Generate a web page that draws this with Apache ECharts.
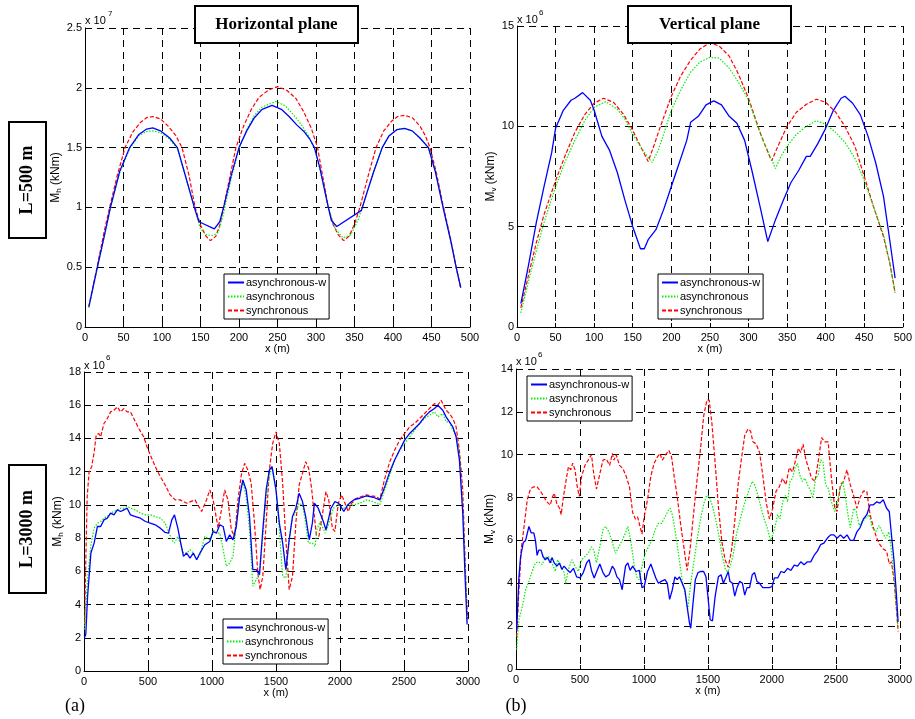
<!DOCTYPE html>
<html><head><meta charset="utf-8">
<script src="https://cdn.jsdelivr.net/npm/echarts@6/dist/echarts.min.js"></script>
<style>html,body{margin:0;padding:0;background:#fff}#c{width:915px;height:719px}</style>
</head><body><div id="c"></div><script>
// ---------- DATA (values in axis units: top-left x10^7, others x10^6 kNm) ----------
const seriesNames = ['asynchronous-w', 'asynchronous', 'synchronous'];

// Horizontal plane, L=500 m  (Mh, x10^7)
const mhL500AsyncW = [[5,0.17],[15,0.47],[25,0.76],[33,1.0],[45,1.3],[58,1.5],[70,1.61],[80,1.655],[88,1.665],[98,1.64],[110,1.58],[120,1.5],[131,1.25],[142,1.0],[148,0.88],[168,0.82],[175,0.88],[180,1.0],[190,1.27],[200,1.5],[210,1.64],[220,1.75],[230,1.82],[243,1.853],[255,1.82],[265,1.76],[275,1.69],[285,1.63],[292,1.57],[298,1.5],[305,1.33],[316,1.0],[320,0.89],[327,0.84],[359,0.975],[365,1.1],[375,1.3],[386,1.5],[395,1.6],[405,1.65],[415,1.66],[425,1.64],[435,1.58],[446,1.5],[455,1.3],[465,1.0],[475,0.72],[482,0.5],[488,0.33]];
const mhL500Async = [[5,0.16],[15,0.46],[25,0.75],[33,0.99],[45,1.29],[58,1.49],[70,1.6],[80,1.635],[88,1.64],[98,1.625],[110,1.57],[120,1.49],[131,1.25],[142,1.0],[150,0.82],[158,0.77],[166,0.765],[173,0.79],[180,0.95],[190,1.25],[200,1.49],[210,1.65],[220,1.77],[230,1.84],[248,1.885],[260,1.85],[270,1.78],[280,1.7],[290,1.6],[298,1.49],[305,1.32],[316,1.0],[325,0.82],[335,0.745],[345,0.77],[355,0.9],[365,1.1],[375,1.3],[386,1.5],[395,1.6],[405,1.65],[415,1.66],[425,1.64],[435,1.58],[446,1.5],[455,1.3],[465,1.0],[475,0.72],[482,0.5],[488,0.33]];
const mhL500Sync = [[5,0.17],[15,0.48],[25,0.8],[32,1.0],[42,1.27],[52,1.5],[62,1.63],[72,1.71],[80,1.75],[88,1.76],[98,1.74],[108,1.68],[118,1.6],[126,1.5],[135,1.27],[143,1.0],[150,0.85],[157,0.76],[163,0.722],[170,0.76],[175,0.85],[180,1.0],[188,1.25],[196,1.5],[206,1.68],[216,1.82],[226,1.92],[238,1.98],[250,2.01],[262,1.98],[274,1.91],[284,1.8],[294,1.66],[302,1.5],[309,1.25],[316,1.0],[322,0.86],[329,0.77],[336,0.722],[343,0.76],[350,0.86],[357,1.0],[368,1.27],[378,1.5],[388,1.64],[398,1.72],[406,1.76],[415,1.77],[425,1.75],[435,1.68],[442,1.6],[448,1.5],[456,1.3],[465,1.02],[475,0.73],[482,0.5],[488,0.32]];

// Vertical plane, L=500 m  (Mv, x10^6)
const mvL500AsyncW = [[5,1.16],[15,3.1],[25,5.2],[35,7.0],[45,8.7],[50,9.9],[60,10.8],[70,11.3],[75,11.4],[85,11.68],[95,11.3],[100,10.8],[110,9.5],[120,8.8],[130,7.7],[140,6.3],[150,5.0],[160,3.9],[165,3.9],[170,4.35],[180,4.85],[190,5.85],[200,7.0],[210,8.15],[220,9.3],[225,10.2],[235,10.5],[245,11.07],[255,11.27],[265,11.07],[275,10.5],[285,10.15],[295,9.3],[305,7.7],[315,6.0],[325,4.26],[335,5.35],[345,6.3],[355,7.2],[365,7.8],[375,8.5],[380,8.5],[390,9.15],[400,9.9],[410,10.8],[420,11.4],[425,11.5],[435,11.15],[445,10.57],[455,9.5],[465,8.16],[475,6.5],[485,3.8],[490,2.44]];
const mvL500Async = [[5,0.7],[15,2.3],[25,3.8],[35,5.2],[50,7.0],[62,8.2],[75,9.3],[88,10.3],[100,10.95],[115,11.23],[130,10.85],[140,10.35],[150,9.6],[160,9.0],[168,8.55],[175,8.2],[183,8.8],[190,9.6],[200,10.8],[212,11.8],[225,12.7],[237,13.2],[250,13.44],[262,13.4],[275,12.9],[287,12.2],[300,11.3],[310,10.2],[320,9.2],[328,8.5],[335,7.9],[342,8.5],[350,9.0],[362,9.6],[375,10.0],[388,10.28],[400,10.1],[413,9.7],[425,9.2],[438,8.4],[450,7.3],[462,6.0],[475,4.6],[483,3.2],[490,1.7]];
const mvL500Sync = [[5,0.95],[15,2.6],[25,4.2],[35,5.6],[50,7.3],[62,8.5],[75,9.7],[88,10.6],[100,11.15],[112,11.4],[125,11.2],[138,10.6],[150,9.8],[160,9.0],[170,8.25],[178,9.1],[185,9.9],[200,11.5],[212,12.5],[225,13.3],[237,13.85],[250,14.17],[262,14.0],[275,13.5],[287,12.6],[300,11.4],[308,10.5],[315,9.7],[322,9.0],[330,8.28],[338,9.0],[350,10.0],[362,10.7],[375,11.1],[388,11.35],[400,11.2],[413,10.7],[425,10.0],[438,9.0],[450,7.5],[462,6.0],[475,4.5],[483,3.2],[490,1.72]];

// Horizontal plane, L=3000 m (Mh, x10^6)
const mhL3000AsyncW = [[3,2.0],[14,2.2],[28,4.5],[54,7.1],[79,7.7],[105,8.7],[130,8.7],[156,9.1],[182,9.2],[208,9.5],[234,9.4],[260,9.7],[286,9.6],[311,9.7],[337,9.8],[363,9.4],[402,9.3],[441,9.2],[480,9.0],[518,8.9],[557,8.8],[596,8.6],[634,8.34],[660,8.3],[686,9.1],[707,9.4],[733,8.6],[751,7.9],[777,6.9],[802,7.1],[828,6.8],[854,7.1],[880,6.7],[906,7.1],[944,7.6],[983,7.8],[1009,8.4],[1035,8.3],[1061,8.8],[1087,8.7],[1112,7.8],[1138,8.2],[1164,7.9],[1190,8.7],[1216,10.5],[1241,11.5],[1267,10.9],[1293,9.3],[1319,6.1],[1345,6.1],[1371,5.8],[1397,8.5],[1423,10.9],[1448,12.1],[1469,12.3],[1500,10.9],[1526,8.9],[1552,7.7],[1577,6.1],[1603,7.9],[1629,9.3],[1655,9.8],[1681,10.7],[1707,10.2],[1732,9.3],[1760,7.9],[1784,8.9],[1800,10.1],[1830,9.8],[1870,9.0],[1890,8.5],[1930,9.8],[1960,10.2],[1990,10.1],[2030,9.6],[2060,10.0],[2090,10.2],[2117,10.34],[2155,10.4],[2207,10.54],[2259,10.46],[2311,10.3],[2350,11.1],[2389,12.0],[2427,12.7],[2466,13.3],[2505,13.9],[2544,14.3],[2583,14.6],[2622,14.9],[2661,15.3],[2699,15.6],[2738,15.8],[2764,16.0],[2803,15.7],[2829,15.3],[2855,15.0],[2881,14.7],[2907,14.1],[2933,12.7],[2959,9.5],[2977,5.7],[2993,2.8]];
const mhL3000Async = [[3,2.5],[14,4.0],[28,5.5],[54,7.6],[79,8.6],[105,8.9],[130,9.0],[156,9.2],[182,9.3],[208,9.5],[234,9.6],[260,9.7],[286,9.8],[311,9.8],[337,9.9],[363,9.8],[402,9.7],[441,9.5],[480,9.4],[518,9.4],[557,9.3],[596,9.2],[634,8.9],[660,8.4],[686,7.9],[707,7.7],[733,8.1],[751,7.7],[777,7.1],[802,7.1],[828,7.3],[854,7.1],[880,6.7],[906,7.0],[944,8.1],[983,7.9],[1009,8.5],[1035,8.3],[1061,8.3],[1087,7.3],[1112,6.3],[1138,6.5],[1164,6.9],[1190,8.9],[1216,10.5],[1241,11.4],[1267,10.5],[1293,8.5],[1319,5.1],[1345,5.5],[1371,5.8],[1397,8.1],[1423,10.5],[1448,11.7],[1469,12.3],[1500,10.9],[1526,8.5],[1552,5.7],[1577,5.6],[1603,7.9],[1629,9.3],[1655,9.5],[1681,10.1],[1707,10.0],[1732,8.9],[1753,7.7],[1784,7.7],[1806,7.5],[1819,8.5],[1845,9.0],[1884,8.3],[1909,8.8],[1948,9.8],[1987,10.0],[2026,9.8],[2065,9.9],[2104,10.0],[2155,10.1],[2207,10.3],[2259,10.2],[2311,10.0],[2350,10.9],[2389,11.8],[2427,12.7],[2466,13.3],[2505,13.7],[2544,14.1],[2583,14.5],[2622,14.9],[2661,15.2],[2699,15.4],[2738,15.6],[2764,15.3],[2803,15.5],[2829,15.0],[2855,15.0],[2881,14.5],[2907,14.2],[2933,13.0],[2959,9.8],[2985,5.0],[2995,3.0]];
const mhL3000Sync = [[5,2.8],[15,7.0],[25,10.5],[40,12.0],[60,12.3],[80,13.2],[95,14.2],[115,14.3],[130,14.1],[156,14.9],[182,15.2],[208,15.6],[234,15.7],[260,15.9],[286,15.6],[311,15.8],[337,15.6],[363,15.6],[389,15.2],[428,14.6],[466,14.1],[492,13.5],[518,13.0],[557,12.3],[596,11.7],[634,11.2],[673,10.6],[712,10.3],[751,10.3],[802,10.1],[867,10.3],[919,9.6],[957,10.3],[983,10.9],[1009,10.3],[1048,8.6],[1074,9.7],[1099,10.9],[1125,10.3],[1151,8.5],[1177,8.1],[1203,10.3],[1229,11.8],[1255,12.5],[1280,12.1],[1306,11.3],[1332,8.9],[1358,5.9],[1376,4.9],[1397,5.7],[1423,8.9],[1448,12.1],[1474,13.7],[1500,14.4],[1526,13.7],[1552,11.3],[1577,7.9],[1603,4.9],[1629,5.7],[1655,8.9],[1681,11.2],[1707,11.9],[1732,12.6],[1755,12.2],[1778,11.0],[1800,9.3],[1815,8.2],[1835,8.1],[1860,9.3],[1890,10.8],[1912,10.3],[1940,8.6],[1960,8.4],[1987,10.1],[2013,10.6],[2039,10.1],[2065,9.6],[2091,10.1],[2130,10.4],[2168,10.5],[2207,10.6],[2246,10.54],[2285,10.5],[2311,10.34],[2350,11.6],[2389,12.6],[2427,13.3],[2466,13.9],[2505,14.3],[2544,14.7],[2583,14.9],[2622,15.2],[2661,15.5],[2699,15.8],[2738,16.1],[2764,16.0],[2790,16.3],[2803,16.2],[2829,15.7],[2855,15.5],[2881,15.2],[2907,14.7],[2933,13.3],[2959,10.9],[2985,4.9],[2998,3.1]];

// Vertical plane, L=3000 m (Mv, x10^6)
const mvL3000AsyncW = [[5,1.8],[23,4.3],[36,5.25],[57,5.9],[75,6.0],[101,6.65],[119,6.35],[139,6.35],[152,6.0],[165,5.3],[178,5.55],[196,5.55],[211,5.25],[229,5.1],[247,5.2],[268,4.95],[281,5.2],[299,4.95],[320,4.8],[340,4.95],[358,4.65],[376,4.8],[397,4.65],[423,4.5],[449,4.7],[474,4.3],[500,4.25],[526,4.5],[552,4.95],[572,5.1],[590,4.6],[611,4.25],[634,4.6],[655,4.9],[680,4.5],[701,4.3],[727,4.4],[753,4.8],[770,4.65],[789,4.3],[809,4.17],[830,3.7],[856,4.8],[874,4.95],[892,4.6],[912,4.8],[938,4.55],[964,4.6],[985,3.8],[1002,3.85],[1028,4.55],[1054,4.9],[1072,4.6],[1093,4.25],[1113,4.0],[1139,4.1],[1165,4.17],[1183,4.0],[1201,3.25],[1222,3.7],[1242,4.3],[1260,4.17],[1278,4.3],[1299,4.0],[1320,3.7],[1338,2.9],[1356,2.15],[1366,1.9],[1381,2.9],[1402,4.17],[1423,4.5],[1441,4.55],[1467,4.55],[1485,4.3],[1500,3.4],[1518,2.3],[1536,2.25],[1557,3.4],[1582,4.3],[1603,4.4],[1621,4.0],[1639,4.25],[1659,4.55],[1672,4.1],[1692,4.0],[1710,3.4],[1728,3.8],[1749,4.1],[1770,4.0],[1788,3.45],[1806,3.8],[1826,3.8],[1847,4.4],[1865,4.5],[1883,4.1],[1904,4.0],[1929,3.8],[1955,3.8],[1981,3.8],[2002,3.85],[2020,4.25],[2046,4.25],[2071,4.55],[2097,4.5],[2123,4.7],[2149,4.6],[2175,4.85],[2201,4.8],[2226,5.0],[2252,4.86],[2278,5.0],[2304,5.0],[2330,5.3],[2356,5.5],[2381,5.8],[2407,5.87],[2433,6.1],[2459,6.26],[2485,6.26],[2510,6.1],[2536,6.26],[2562,6.1],[2588,6.26],[2613,6.0],[2639,6.0],[2665,6.4],[2690,6.6],[2716,7.0],[2742,7.2],[2768,7.66],[2794,7.66],[2820,7.8],[2845,7.74],[2871,7.9],[2897,7.5],[2918,7.35],[2935,6.26],[2956,5.0],[2974,3.45],[2987,2.2]];
const mvL3000Async = [[5,0.9],[23,2.3],[49,2.9],[75,3.7],[101,4.1],[126,4.55],[152,4.95],[178,5.0],[204,4.87],[229,5.2],[255,5.25],[281,4.95],[307,4.55],[325,5.1],[350,4.8],[376,4.5],[389,4.0],[410,4.65],[436,5.1],[461,4.8],[487,4.55],[513,5.1],[539,5.25],[564,5.4],[590,5.7],[608,5.55],[629,4.95],[655,5.7],[680,6.5],[701,6.65],[727,6.4],[753,5.9],[778,5.4],[804,5.7],[830,6.0],[856,6.35],[874,6.65],[900,5.9],[925,4.8],[943,4.3],[964,4.17],[985,4.8],[1010,5.4],[1036,5.7],[1062,6.0],[1088,6.5],[1113,6.8],[1139,6.8],[1165,7.1],[1191,7.4],[1204,7.5],[1222,7.2],[1247,6.35],[1273,5.25],[1299,4.17],[1325,3.4],[1343,2.8],[1363,3.85],[1389,4.95],[1415,6.0],[1441,6.95],[1467,7.7],[1492,8.1],[1510,8.05],[1536,7.6],[1562,6.95],[1587,6.2],[1613,5.25],[1639,4.6],[1659,4.55],[1677,4.86],[1697,5.3],[1723,6.26],[1749,6.9],[1775,7.5],[1800,7.97],[1826,8.44],[1847,8.75],[1865,8.6],[1891,8.1],[1917,7.5],[1942,6.96],[1968,6.5],[1989,6.0],[2007,6.26],[2027,6.7],[2046,7.2],[2064,7.0],[2084,7.8],[2105,8.1],[2123,7.8],[2141,8.75],[2162,8.9],[2182,9.4],[2200,9.6],[2218,9.06],[2239,8.75],[2259,8.9],[2278,8.6],[2304,8.3],[2321,7.97],[2342,8.9],[2363,9.06],[2381,9.75],[2399,9.7],[2420,8.6],[2440,8.44],[2466,7.8],[2492,7.35],[2518,7.97],[2536,8.44],[2554,8.75],[2574,8.1],[2595,7.2],[2613,6.6],[2639,7.5],[2660,7.35],[2683,6.7],[2709,6.9],[2734,7.04],[2760,7.2],[2786,6.6],[2812,6.4],[2838,6.7],[2863,6.4],[2889,6.1],[2915,6.4],[2935,5.5],[2956,4.24],[2974,2.85],[2987,1.9]];
const mvL3000Sync = [[5,1.5],[10,2.2],[23,3.7],[41,5.6],[62,6.6],[88,7.9],[113,8.4],[139,8.5],[165,8.5],[191,8.3],[216,8.05],[242,7.8],[268,7.65],[281,7.97],[299,8.2],[320,7.7],[340,7.5],[353,7.2],[371,8.05],[397,9.0],[410,9.44],[428,9.3],[443,9.6],[461,9.3],[479,8.5],[495,8.05],[513,9.0],[539,9.5],[564,9.75],[590,10.0],[608,9.1],[629,8.4],[655,9.1],[680,9.75],[706,9.8],[732,9.5],[753,10.06],[766,9.75],[783,10.0],[809,9.5],[835,9.36],[861,9.0],[887,8.5],[912,7.3],[933,7.0],[951,7.1],[969,6.65],[985,6.3],[1002,7.1],[1028,7.9],[1054,9.0],[1080,9.6],[1106,9.9],[1124,10.06],[1144,9.75],[1170,10.0],[1196,10.2],[1216,9.9],[1234,9.1],[1260,8.05],[1286,6.8],[1312,5.7],[1338,4.6],[1363,5.7],[1389,7.3],[1415,8.8],[1441,10.2],[1467,11.8],[1492,12.55],[1510,12.55],[1531,11.5],[1557,9.6],[1582,7.6],[1608,6.0],[1634,5.1],[1659,4.75],[1684,5.5],[1710,6.9],[1736,8.6],[1762,9.8],[1788,10.9],[1813,11.2],[1834,11.1],[1852,10.6],[1878,10.5],[1904,10.1],[1929,9.06],[1955,7.8],[1981,7.0],[2007,7.5],[2033,8.3],[2058,8.5],[2084,8.9],[2110,8.6],[2136,9.4],[2162,9.2],[2188,9.8],[2208,10.3],[2226,10.1],[2244,10.5],[2265,9.8],[2285,9.4],[2311,8.9],[2337,8.75],[2363,9.7],[2389,10.8],[2414,10.6],[2440,10.6],[2466,8.9],[2492,7.5],[2510,7.35],[2536,8.6],[2561,8.75],[2587,9.3],[2613,8.6],[2639,8.1],[2665,7.5],[2690,8.0],[2716,8.3],[2742,8.3],[2768,7.2],[2794,6.6],[2820,6.1],[2845,5.8],[2871,5.6],[2897,5.5],[2918,4.9],[2935,5.0],[2956,4.1],[2974,2.8],[2987,1.75]];

// ---------- LAYOUT / STYLE ----------
const FONT = '"Liberation Sans", Arial, Helvetica, sans-serif';
const SERIF = '"Liberation Serif", "Times New Roman", serif';
const lineStyles = [
  {color:'#0000ff', type:'solid', width:1.3},
  {color:'#00ee00', type:[1.5,1.5], width:1.2},
  {color:'#ff0000', type:[4,2], width:1.2}
];
const panels = [
  {grid:{left:85, top:28, width:385, height:299}, xMax:500, xInt:50, yMax:2.5, yInt:0.5, sub:'h', exp:'7', mult:[85,15,108,10], leg:[224,274], data:[mhL500AsyncW, mhL500Async, mhL500Sync]},
  {grid:{left:517, top:26, width:387, height:301}, xMax:500, xInt:50, yMax:15, yInt:5, sub:'v', exp:'6', mult:[517,14,539,9], leg:[658,274], data:[mvL500AsyncW, mvL500Async, mvL500Sync]},
  {grid:{left:84, top:372, width:384, height:299}, xMax:3000, xInt:500, yMax:18, yInt:2, sub:'h', exp:'6', mult:[84,360,106,354], leg:[223,619], data:[mhL3000AsyncW, mhL3000Async, mhL3000Sync]},
  {grid:{left:516, top:369, width:387, height:300}, xMax:3000, xInt:500, yMax:14, yInt:2, sub:'v', exp:'6', mult:[516,356,538,351], leg:[527,376], data:[mvL3000AsyncW, mvL3000Async, mvL3000Sync]}
];

const grid = [], xAxis = [], yAxis = [], series = [], legend = [], graphic = [];
const splitStyle = {color:'#000', type:[7,5], width:1};
const plainNum = v => String(v);
panels.forEach((p, i) => {
  grid.push(Object.assign({containLabel:false, show:false}, p.grid));
  xAxis.push({
    type:'value', gridIndex:i, min:0, max:p.xMax, interval:p.xInt,
    axisLine:{show:true, onZero:false, lineStyle:{color:'#000', width:1}},
    axisTick:{show:true, inside:true, length:4, lineStyle:{color:'#000'}},
    axisLabel:{color:'#000', fontSize:11, fontFamily:FONT, margin:5, formatter:plainNum},
    splitLine:{show:true, lineStyle:splitStyle},
    name:'x (m)', nameLocation:'middle', nameGap:15,
    nameTextStyle:{color:'#000', fontSize:11, fontFamily:FONT}
  });
  yAxis.push({
    type:'value', gridIndex:i, min:0, max:p.yMax, interval:p.yInt,
    axisLine:{show:true, onZero:false, lineStyle:{color:'#000', width:1}},
    axisTick:{show:true, inside:true, length:4, lineStyle:{color:'#000'}},
    axisLabel:{color:'#000', fontSize:11, fontFamily:FONT, margin:3, formatter:plainNum},
    splitLine:{show:true, lineStyle:splitStyle},
    name:'M{s|' + p.sub + '} (kNm)', nameLocation:'middle', nameGap:22,
    nameTextStyle:{color:'#000', fontSize:12, fontFamily:FONT, lineHeight:15, verticalAlign:'middle',
      rich:{s:{fontSize:8, fontFamily:FONT, color:'#000', verticalAlign:'bottom', lineHeight:9}}}
  });
  p.data.forEach((d, k) => {
    series.push({
      name:seriesNames[k], type:'line', xAxisIndex:i, yAxisIndex:i, data:d,
      symbol:'none', showSymbol:false, smooth:false, animation:false,
      lineStyle:lineStyles[k], itemStyle:{color:lineStyles[k].color}, z:3 + (2 - k)
    });
  });
  legend.push({
    data:seriesNames, orient:'vertical', left:p.leg[0], top:p.leg[1],
    itemWidth:16, itemHeight:4, itemGap:1, padding:[2,3,2,3],
    borderColor:'#000', borderWidth:1, backgroundColor:'#fff', borderRadius:0,
    selectedMode:false,
    itemStyle:{opacity:0},
    textStyle:{color:'#000', fontSize:11, fontFamily:FONT, lineHeight:13, padding:[0,0,0,-3]}
  });
  graphic.push({type:'text', left:p.mult[0], top:p.mult[1], z:50,
    style:{text:'x 10', fill:'#000', font:'11px ' + FONT}});
  graphic.push({type:'text', left:p.mult[2], top:p.mult[3], z:50,
    style:{text:p.exp, fill:'#000', font:'8px ' + FONT}});
});

// Title boxes and row labels
const boxes = [
  {x:195, y:6, w:163, h:37, text:'Horizontal plane', rot:0, size:17},
  {x:628, y:6, w:163, h:37, text:'Vertical plane', rot:0, size:17},
  {x:9, y:122, w:37, h:116, text:'L=500 m', rot:Math.PI/2, size:18},
  {x:9, y:465, w:37, h:128, text:'L=3000 m', rot:Math.PI/2, size:18}
];
boxes.forEach(b => {
  graphic.push({type:'rect', z:100, shape:{x:b.x, y:b.y, width:b.w, height:b.h},
    style:{fill:'#fff', stroke:'#000', lineWidth:2}});
  graphic.push({type:'text', z:101, x:b.x + b.w/2, y:b.y + b.h/2, rotation:b.rot,
    style:{text:b.text, fill:'#000', font:'bold ' + b.size + 'px ' + SERIF, align:'center', verticalAlign:'middle'}});
});
graphic.push({type:'text', z:101, x:75, y:706, style:{text:'(a)', fill:'#000', font:'18px ' + SERIF, align:'center', verticalAlign:'middle'}});
graphic.push({type:'text', z:101, x:516, y:706, style:{text:'(b)', fill:'#000', font:'18px ' + SERIF, align:'center', verticalAlign:'middle'}});

const chart = echarts.init(document.getElementById('c'), null, {renderer:'canvas', width:915, height:719});
chart.setOption({
  backgroundColor:'#fff', animation:false,
  grid, xAxis, yAxis, series, legend, graphic
});
</script></body></html>
